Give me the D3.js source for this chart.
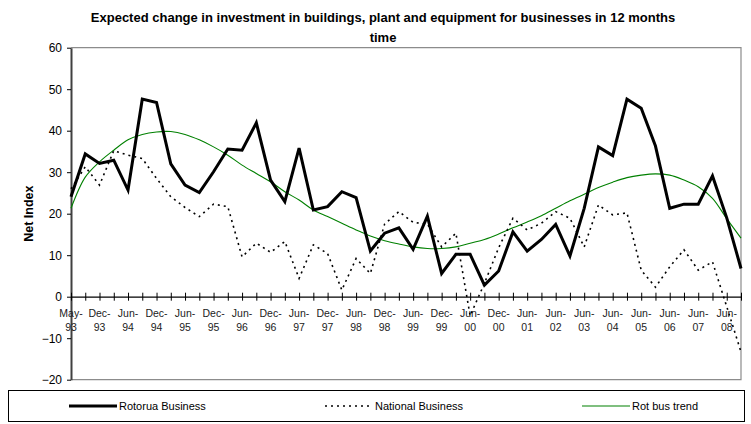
<!DOCTYPE html>
<html>
<head>
<meta charset="utf-8">
<script src="https://cdn.jsdelivr.net/npm/d3@7"></script>
<style>
  body { margin: 0; background: #fff; }
  text { font-family: "Liberation Sans", Arial, sans-serif; }
</style>
</head>
<body>
<div class="graph"></div>
<script>
// categories (survey dates), labels shown on every second one
var categories = ["May-93","Sep-93","Dec-93","Mar-94","Jun-94","Sep-94","Dec-94","Mar-95","Jun-95","Sep-95",
  "Dec-95","Mar-96","Jun-96","Sep-96","Dec-96","Mar-97","Jun-97","Sep-97","Dec-97","Mar-98",
  "Jun-98","Sep-98","Dec-98","Mar-99","Jun-99","Sep-99","Dec-99","Mar-00","Jun-00","Sep-00",
  "Dec-00","Mar-01","Jun-01","Dec-01","Jun-02","Dec-02","Jun-03","Dec-03","Jun-04","Dec-04",
  "Jun-05","Dec-05","Jun-06","Dec-06","Jun-07","Dec-07","Jun-08","Dec-08"];

var rotorua = [24.1,34.4,32.1,32.9,25.7,47.6,46.8,32.0,26.9,25.1,
  30.1,35.6,35.3,41.9,28.1,22.9,35.8,20.9,21.7,25.3,
  23.9,11.0,15.3,16.6,11.4,19.4,5.6,10.2,10.2,2.8,
  6.2,15.6,11.0,13.8,17.4,9.8,21.3,36.1,34.0,47.6,
  45.4,36.3,21.3,22.3,22.3,29.1,19.0,6.8];

var national = [26.0,31.3,26.9,35.2,34.1,33.3,28.5,24.1,21.5,19.3,
  22.3,21.7,9.6,12.9,10.7,13.3,4.4,12.5,10.4,1.6,
  9.2,5.6,17.5,20.5,17.9,17.5,12.0,15.3,-4.6,3.2,
  11.8,18.9,16.1,17.7,20.5,18.9,12.0,22.1,19.7,20.2,
  6.4,2.3,7.2,11.3,6.4,8.4,-2.4,-13.3];

var trend = [21.3,28.8,32.5,35.3,37.8,39.1,39.7,39.8,39.1,37.8,
  36.1,34.1,31.7,29.7,27.7,25.3,23.3,20.9,19.3,17.7,
  16.1,14.6,13.5,12.7,12.0,11.6,11.6,12.0,12.9,13.8,
  15.1,16.6,18.0,19.5,21.3,23.1,24.7,26.3,27.6,28.7,
  29.3,29.6,29.3,28.1,26.5,23.7,18.8,14.1];

var yTicks = [-20,-10,0,10,20,30,40,50,60];

var width = 751, height = 424;
var plotLeft = 71, plotRight = 741, plotTop = 47.7, plotBottom = 379.7;

var svg = d3.select(".graph").append("svg")
  .attr("width", width)
  .attr("height", height);

var x = d3.scalePoint().domain(categories).range([plotLeft, plotRight]);
var y = d3.scaleLinear().domain([-20, 60]).range([plotBottom, plotTop]);

//title
var title = svg.append("text")
  .attr("text-anchor", "middle")
  .attr("font-weight", "bold")
  .attr("font-size", 13);
title.append("tspan").attr("x", 383).attr("y", 22)
  .text("Expected change in investment in buildings, plant and equipment for businesses in 12 months");
title.append("tspan").attr("x", 383).attr("y", 42).text("time");

//plot frame
svg.append("path")
  .attr("d", "M" + plotLeft + "," + plotTop + "H" + plotRight + "V" + plotBottom + "H" + plotLeft)
  .attr("fill", "none")
  .attr("stroke", "#8c8c8c")
  .attr("stroke-width", 1.2);

//y axis
var yAxis = svg.append("g")
  .attr("transform", "translate(" + plotLeft + ",0)")
  .call(d3.axisLeft(y).tickValues(yTicks).tickSize(4).tickPadding(5).tickSizeOuter(0));
yAxis.select(".domain").attr("stroke", "#404040").attr("stroke-width", 2);
yAxis.selectAll(".tick line").attr("stroke", "#000");
yAxis.selectAll("text").attr("font-size", 12).attr("font-family", "Liberation Sans, Arial, sans-serif").attr("fill", "#000");

svg.append("text")
  .attr("transform", "translate(33," + ((plotTop + plotBottom) / 2) + ") rotate(-90)")
  .attr("text-anchor", "middle")
  .attr("font-weight", "bold")
  .attr("font-size", 12.5)
  .text("Net Index");

//x axis through zero, cross ticks
var xAxis = svg.append("g")
  .attr("transform", "translate(0," + y(0) + ")")
  .call(d3.axisBottom(x).tickSize(0).tickFormat(""));
xAxis.select(".domain").attr("stroke", "#000").attr("stroke-width", 1.2);
xAxis.selectAll(".tick").append("line")
  .attr("y1", -4).attr("y2", 4)
  .attr("stroke", "#000");

var labels = svg.append("g");
categories.forEach(function(c, i) {
  if (i % 2 != 0) return;
  var parts = c.split("-");
  var t = labels.append("text")
    .attr("text-anchor", "middle")
    .attr("font-size", 10.5)
    .attr("fill", "#222");
  t.append("tspan").attr("x", x(c)).attr("y", y(0) + 20).text(parts[0] + "-");
  t.append("tspan").attr("x", x(c)).attr("y", y(0) + 34).text(parts[1]);
});

//series
var line = function(values) {
  return d3.line()
    .x(function(d, i) { return x(categories[i]); })
    .y(function(d) { return y(d); })(values);
};

svg.append("path")
  .attr("d", d3.line()
    .x(function(d, i) { return x(categories[i]); })
    .y(function(d) { return y(d); })
    .curve(d3.curveCatmullRom)(trend))
  .attr("fill", "none")
  .attr("stroke", "#008000")
  .attr("stroke-width", 1.1);

svg.append("path")
  .attr("d", line(national))
  .attr("fill", "none")
  .attr("stroke", "#000")
  .attr("stroke-width", 1.6)
  .attr("stroke-dasharray", "2,4");

svg.append("path")
  .attr("d", line(rotorua))
  .attr("fill", "none")
  .attr("stroke", "#000")
  .attr("stroke-width", 3)
  .attr("stroke-linejoin", "miter");

//legend
var legend = svg.append("g");
legend.append("rect")
  .attr("x", 8.5).attr("y", 390.5)
  .attr("width", 736).attr("height", 31)
  .attr("fill", "#fff")
  .attr("stroke", "#000")
  .attr("stroke-width", 1);

var items = [
  {name: "Rotorua Business", x1: 69, color: "#000", w: 3, dash: null},
  {name: "National Business", x1: 325, color: "#000", w: 1.6, dash: "2,4"},
  {name: "Rot bus trend", x1: 582, color: "#008000", w: 1.1, dash: null}
];
items.forEach(function(d) {
  legend.append("line")
    .attr("x1", d.x1).attr("x2", d.x1 + 48)
    .attr("y1", 406).attr("y2", 406)
    .attr("stroke", d.color)
    .attr("stroke-width", d.w)
    .attr("stroke-dasharray", d.dash);
  legend.append("text")
    .attr("x", d.x1 + 50).attr("y", 410)
    .attr("font-size", 11)
    .text(d.name);
});
</script>
</body>
</html>
